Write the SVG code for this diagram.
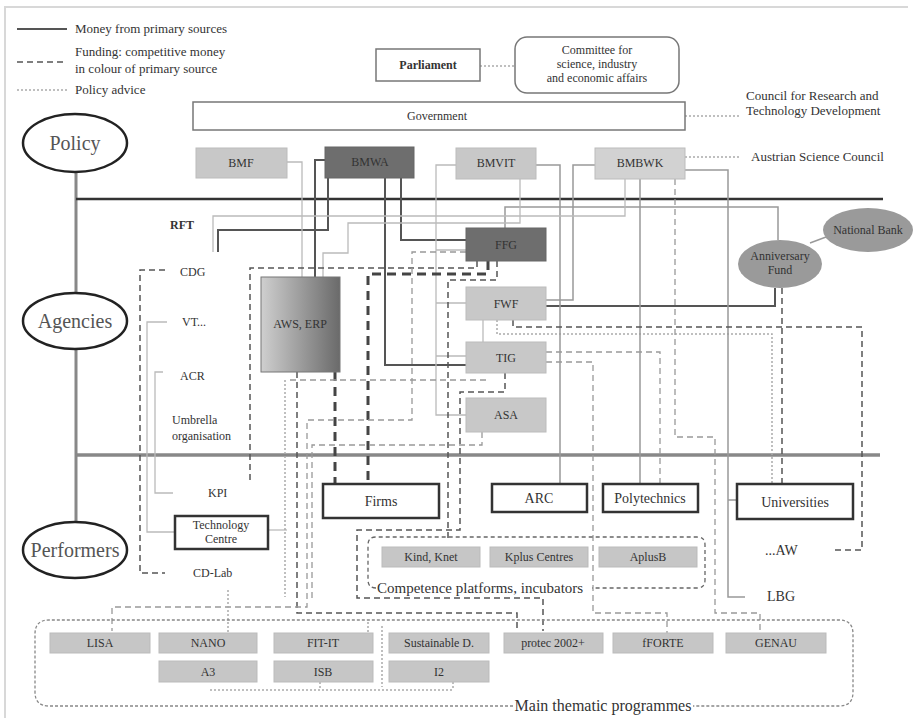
<svg xmlns="http://www.w3.org/2000/svg" width="913" height="721" viewBox="0 0 913 721" font-family="'Liberation Serif', 'DejaVu Serif', serif">
<style>
text{font-family:'Liberation Serif','DejaVu Serif',serif;fill:#333}
.t{font-size:12px;text-anchor:middle}
.s{font-size:12px;text-anchor:middle}
.tb{font-size:14px;text-anchor:middle}
.l{font-size:12px}
.lg{font-size:13px}
.r{font-size:13px}
.el{font-size:20px;text-anchor:middle;fill:#555}
.big{font-size:15px}
.bl{fill:#c8c8c8;stroke:#bcbcbc}
.bd{fill:#6e6e6e;stroke:#666}
.bw{fill:#fff;stroke:#333;stroke-width:2.5}
.bp{fill:#c6c6c6;stroke:#bbb}
.ring{fill:#fff;stroke:#222;stroke-width:2.5}
.m{fill:none;stroke:#555;stroke-width:2}
.mg{fill:none;stroke:#999;stroke-width:1.5}
.ml{fill:none;stroke:#bbb;stroke-width:1.3}
.f{fill:none;stroke:#555;stroke-width:1.5;stroke-dasharray:6 4}
.ft{fill:none;stroke:#444;stroke-width:3;stroke-dasharray:9 6}
.fl{fill:none;stroke:#999;stroke-width:1.3;stroke-dasharray:6 4}
.a{fill:none;stroke:#aaa;stroke-width:1.5;stroke-dasharray:2 2}
</style>
<defs>
<linearGradient id="gAws" x1="0" y1="0" x2="1" y2="0">
<stop offset="0" stop-color="#cfcfcf"/>
<stop offset="1" stop-color="#6a6a6a"/>
</linearGradient>
</defs>
<rect width="913" height="721" fill="#fff"/>
<path d="M5,718 V7 H908" fill="none" stroke="#d8d8d8" stroke-width="2"/>

<g id="legend">
<line x1="17" y1="29" x2="67" y2="29" class="m"/>
<text x="75" y="33" class="lg">Money from primary sources</text>
<line x1="17" y1="62" x2="67" y2="62" class="f"/>
<text x="75" y="56" class="lg">Funding: competitive money</text>
<text x="75" y="73" class="lg">in colour of primary source</text>
<line x1="17" y1="90" x2="67" y2="90" class="a"/>
<text x="75" y="94" class="lg">Policy advice</text>
</g>

<g id="levels">
<line x1="76" y1="173" x2="76" y2="522" stroke="#888" stroke-width="3"/>
<line x1="76" y1="199" x2="883" y2="199" stroke="#333" stroke-width="2.5"/>
<line x1="76" y1="455" x2="880" y2="455" stroke="#888" stroke-width="3.5"/>
</g>

<g id="connectors">
<path class="a" d="M480,66 H515"/>
<path class="a" d="M685,116 H740"/>
<path class="a" d="M685,157 H740"/>
<path class="a" d="M497,320 V334 H772 V484"/>
<path class="fl" d="M675,179 V437 H715 V613 H760 V633"/>
<path class="m" d="M325,160 H315 V277"/>
<path class="m" d="M328,178 V230 H218 V252"/>
<path class="m" d="M385,178 V365 H466"/>
<path class="m" d="M401,178 V240 H466"/>
<path class="m" d="M546,306 H775 V288" stroke="#666"/>
<path class="mg" d="M505,228 V207 H778 V240" stroke="#777"/>
<path class="ml" d="M287,162 H302 V277"/>
<path class="mg" d="M595,165 H573 V300 H546"/>
<path class="ml" d="M456,165 H436 V415 H466 M436,250 H466 M436,303 H466 M436,356 H466"/>
<path class="mg" d="M536,165 H560 V484"/>
<path class="ml" d="M625,179 V216 H213 V252"/>
<path class="ml" d="M520,179 V223 H348 V253 H323 V277"/>
<path class="mg" d="M640,179 V484"/>
<path class="mg" d="M685,170 H728 V597 H745 M728,500 H737"/>
<path class="ml" d="M483,320 V342"/>
<path class="ml" d="M167,322 H147 V532 H175"/>
<path class="ml" d="M163,372 H155 V493 H173"/>
<path class="ml" d="M268,530 H287"/>
<path class="mg" d="M810,243 L826,237"/>
<path class="f" d="M165,270 H140 V573 H165"/>
<path class="f" d="M477,261 V268 H250 V482"/>
<path class="ft" d="M488,261 V274 H368 V484"/>
<path class="ft" d="M335,372 V484"/>
<path class="f" d="M497,261 V280 H448 V540"/>
<path class="f" d="M505,373 V392 H460 V530 H357 V598 H543 V631"/>
<path class="f" d="M297,372 V613 H517 V631"/>
<path class="fl" d="M466,252 H412 V420 H307 V607 H112 V631"/>
<path class="fl" d="M290,380 H487"/>
<path class="a" d="M285,380 V597"/>
<path class="fl" d="M482,432 V445 H312 V600"/>
<path class="fl" d="M546,352 H660 V484"/>
<path class="fl" d="M546,362 H593 V613 H667 V633"/>
<path class="f" d="M513,320 V327 H862 V550 H832" stroke="#888"/>
<path class="f" d="M782,288 V484" stroke="#777"/>
<path class="a" d="M228,590 V633"/>
<path class="a" d="M368,622 V633"/>
<path class="a" d="M382,626 V687"/>
<path class="a" d="M210,690 H453 M320,682 V690 M453,682 V690"/>
</g>

<g id="policy"><ellipse cx="75" cy="143" rx="52" ry="29" class="ring"/><text x="75" y="150" class="el">Policy</text></g>
<g id="agencies"><ellipse cx="75" cy="321" rx="52" ry="28" class="ring"/><text x="75" y="328" class="el">Agencies</text></g>
<g id="performers"><ellipse cx="75" cy="550" rx="52" ry="28" class="ring"/><text x="75" y="557" class="el">Performers</text></g>

<g id="parliament"><rect x="376" y="49" width="104" height="32" fill="#fff" stroke="#777" stroke-width="1.5"/><text x="428" y="69" class="t" font-weight="bold">Parliament</text></g>
<g id="committee"><rect x="515" y="37" width="164" height="56" rx="12" fill="#fff" stroke="#777" stroke-width="1.5"/>
<text x="597" y="54" class="t">Committee for</text><text x="597" y="68" class="t">science, industry</text><text x="597" y="82" class="t">and economic affairs</text></g>
<g id="government"><rect x="193" y="102" width="492" height="28" fill="#fff" stroke="#777" stroke-width="1.5"/><text x="437" y="120" class="t">Government</text></g>
<g id="council"><text x="746" y="100" class="r">Council for Research and</text><text x="746" y="115" class="r">Technology Development</text></g>
<g id="asc"><text x="751" y="161" class="r">Austrian Science Council</text></g>

<g id="bmf"><rect x="196" y="148" width="91" height="30" class="bl"/><text x="241" y="167" class="t">BMF</text></g>
<g id="bmwa"><rect x="325" y="147" width="89" height="31" class="bd"/><text x="370" y="166" class="t">BMWA</text></g>
<g id="bmvit"><rect x="456" y="148" width="80" height="31" class="bl"/><text x="496" y="167" class="t">BMVIT</text></g>
<g id="bmbwk"><rect x="595" y="148" width="90" height="31" class="bl" style="fill:#d2d2d2"/><text x="640" y="167" class="t">BMBWK</text></g>

<g id="rft"><text x="170" y="229" class="l" font-weight="bold">RFT</text></g>
<g id="cdg"><text x="180" y="276" class="l">CDG</text></g>
<g id="vt"><text x="182" y="326" class="l">VT...</text></g>
<g id="acr"><text x="180" y="380" class="l">ACR</text></g>
<g id="umbrella"><text x="172" y="424" class="l">Umbrella</text><text x="172" y="440" class="l">organisation</text></g>

<g id="aws"><rect x="261" y="277" width="79" height="95" fill="url(#gAws)" stroke="#777"/><text x="300" y="328" class="s">AWS, ERP</text></g>
<g id="ffg"><rect x="466" y="228" width="80" height="33" class="bd"/><text x="506" y="249" class="t">FFG</text></g>
<g id="fwf"><rect x="466" y="287" width="80" height="33" class="bl"/><text x="506" y="308" class="t">FWF</text></g>
<g id="tig"><rect x="466" y="342" width="80" height="31" class="bl"/><text x="506" y="362" class="t">TIG</text></g>
<g id="asa"><rect x="466" y="398" width="80" height="34" class="bl"/><text x="506" y="419" class="t">ASA</text></g>
<g id="nationalbank"><ellipse cx="868" cy="230" rx="45" ry="22" fill="#9a9a9a"/><text x="868" y="234" class="t">National Bank</text></g>
<g id="anniversary"><ellipse cx="780" cy="264" rx="42" ry="24" fill="#9a9a9a"/><text x="780" y="260" class="t">Anniversary</text><text x="780" y="274" class="t">Fund</text></g>

<g id="kpi"><text x="208" y="497" class="l">KPI</text></g>
<g id="cdlab"><text x="193" y="577" class="l">CD-Lab</text></g>
<g id="techcentre"><rect x="175" y="516" width="93" height="33" class="bw"/><text x="221" y="529" class="t">Technology</text><text x="221" y="543" class="t">Centre</text></g>
<g id="firms"><rect x="323" y="484" width="116" height="34" class="bw"/><text x="381" y="506" class="tb">Firms</text></g>
<g id="arc"><rect x="492" y="484" width="95" height="28" class="bw"/><text x="539" y="503" class="tb">ARC</text></g>
<g id="polytechnics"><rect x="603" y="484" width="95" height="28" class="bw"/><text x="650" y="503" class="tb">Polytechnics</text></g>
<g id="universities"><rect x="737" y="484" width="116" height="35" class="bw"/><text x="795" y="507" class="tb">Universities</text></g>
<g id="aw"><text x="765" y="555" class="tb" style="text-anchor:start">...AW</text></g>
<g id="lbg"><text x="767" y="601" class="tb" style="text-anchor:start">LBG</text></g>

<g id="competence">
<path d="M376,588 Q368,588 368,580 V545 Q368,537 376,537 H697 Q705,537 705,545 V580 Q705,588 697,588 H592" fill="none" stroke="#666" stroke-width="1.3" stroke-dasharray="4 3"/>
<text x="377" y="593" class="big">Competence platforms, incubators</text>
<g id="kind"><rect x="382" y="547" width="98" height="20" class="bp"/><text x="431" y="561" class="s">Kind, Knet</text></g>
<g id="kplus"><rect x="490" y="547" width="98" height="20" class="bp"/><text x="539" y="561" class="s">Kplus Centres</text></g>
<g id="aplusb"><rect x="599" y="547" width="98" height="20" class="bp"/><text x="648" y="561" class="s">AplusB</text></g>
</g>

<g id="programmes">
<path d="M513,706 H49 Q35,706 35,692 V634 Q35,620 49,620 H839 Q853,620 853,634 V692 Q853,706 839,706 H693" fill="none" stroke="#888" stroke-width="1.3" stroke-dasharray="3 2"/>
<text x="603" y="711" class="big" style="text-anchor:middle;font-size:16px">Main thematic programmes</text>
<g id="lisa"><rect x="50" y="633" width="100" height="20" class="bp"/><text x="100" y="647" class="s">LISA</text></g>
<g id="nano"><rect x="159" y="633" width="98" height="20" class="bp"/><text x="208" y="647" class="s">NANO</text></g>
<g id="fitit"><rect x="274" y="633" width="99" height="20" class="bp"/><text x="323" y="647" class="s">FIT-IT</text></g>
<g id="sustainable"><rect x="389" y="633" width="100" height="20" class="bp"/><text x="439" y="647" class="s">Sustainable D.</text></g>
<g id="protec"><rect x="504" y="633" width="99" height="20" class="bp"/><text x="553" y="647" class="s">protec 2002+</text></g>
<g id="fforte"><rect x="613" y="633" width="100" height="20" class="bp"/><text x="663" y="647" class="s">fFORTE</text></g>
<g id="genau"><rect x="726" y="633" width="100" height="20" class="bp"/><text x="776" y="647" class="s">GENAU</text></g>
<g id="a3"><rect x="159" y="661" width="98" height="21" class="bp"/><text x="208" y="676" class="s">A3</text></g>
<g id="isb"><rect x="274" y="661" width="99" height="21" class="bp"/><text x="323" y="676" class="s">ISB</text></g>
<g id="i2"><rect x="389" y="661" width="100" height="21" class="bp"/><text x="439" y="676" class="s">I2</text></g>
</g>
</svg>
